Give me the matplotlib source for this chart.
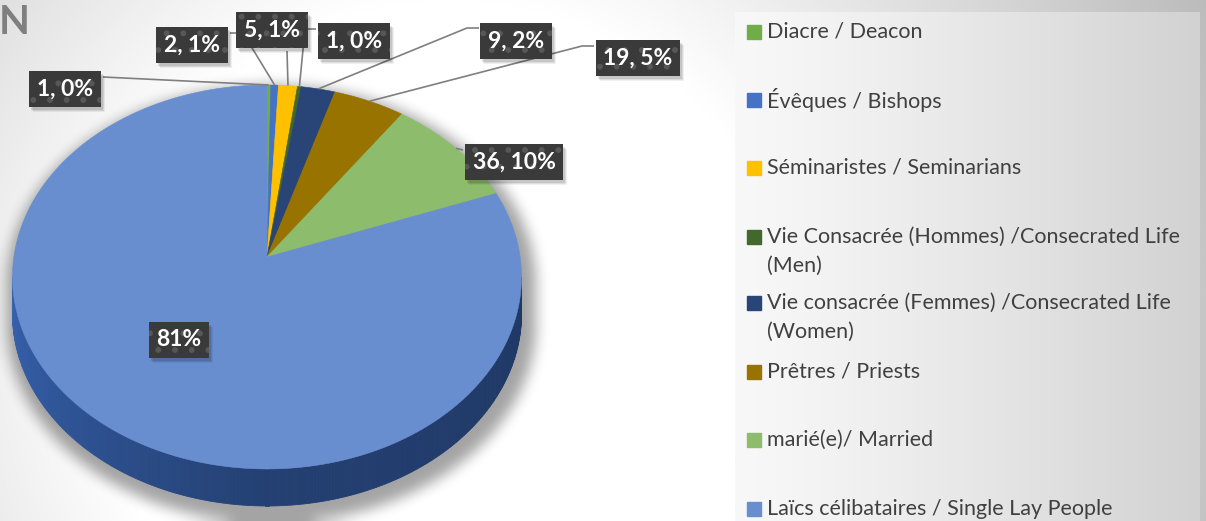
import colorsys
import numpy as np
import matplotlib
matplotlib.use("Agg")
import matplotlib.pyplot as plt
from matplotlib.collections import PolyCollection
from matplotlib.path import Path
from matplotlib.colors import to_rgb

# data
categories = [
    "Diacre / Deacon",
    "Évêques / Bishops",
    "Séminaristes / Seminarians",
    "Vie Consacrée (Hommes) /Consecrated Life\n(Men)",
    "Vie consacrée (Femmes) /Consecrated Life\n(Women)",
    "Prêtres / Priests",
    "marié(e)/ Married",
    "Laïcs célibataires / Single Lay People",
]
counts = [1, 2, 5, 1, 9, 19, 36, 304]
colors = ["#70AD47", "#4472C4", "#FFC000", "#43682B",
          "#294476", "#997300", "#8DBD6C", "#698ED0"]
show_count = [True, True, True, True, True, True, True, False]

# label boxes (text centre) and leader line routes, pixel coords
label_pos = [(65, 89), (192, 45), (272, 30), (354, 41),
             (516, 41), (638, 58), (514, 162), (179, 340)]
leader_route = [
    [(103, 77)],
    [(243, 33), (230, 33)],
    [(287, 51)],
    [(305, 29), (316, 29)],
    [(467, 28), (479, 28)],
    [(582, 46), (594, 46)],
    [(463, 150)],
    None,
]
legend_y = [32, 100, 168, 237, 303, 372, 440, 509]

W, H = 1206, 521
CX, CY, A, B, K, DEPTH = 267, 257, 253.1, 189.9, 0.104, 37


def proj(phi, shift=0.0):
    u = np.sin(phi)
    v = np.cos(phi)
    w = 1 + K * v
    return CX + A * u / w, CY - B * v / w + shift


def darker(c, f):
    h, l, s = colorsys.rgb_to_hls(*to_rgb(c))
    return colorsys.hls_to_rgb(h, l * f, s)


fig = plt.figure(figsize=(W / 100, H / 100), dpi=100)
ax = fig.add_axes([0, 0, 1, 1])
ax.set_xlim(0, W)
ax.set_ylim(H, 0)
ax.axis("off")

# background
yy, xx = np.mgrid[0:H, 0:W]
r = np.hypot(xx - 450, yy - 350)
g = (255 - np.clip(r - 350, 0, None) * 0.14) / 255
ax.imshow(np.dstack([g, g, g]), extent=(0, W, H, 0), zorder=0)

# legend panel
lx0, lx1, ly0 = 735, 1200, 12
t = np.linspace(0, 1, 200)
lg = (248 - 38 * t ** 1.2) / 255
lg = np.tile(lg, (10, 1))
ax.imshow(np.dstack([lg, lg, lg]), extent=(lx0, lx1, H, ly0), zorder=1, aspect="auto")

# pie geometry
total = sum(counts)
edges = np.concatenate([[0], np.cumsum(counts)]) / total * 2 * np.pi
phi_a = np.arccos(-K)

# soft shadow
ph = np.linspace(0, 2 * np.pi, 400)
top_x, top_y = proj(ph)
upper = (ph >= 2 * np.pi - phi_a) | (ph <= phi_a)
sx, sy = proj(ph, DEPTH)
ox = np.where(upper, top_x, sx)
oy = np.where(upper, top_y, sy)
sc = 1.04
outline = np.column_stack([(ox - CX) * sc + CX + 4, (oy - 290) * sc + 290 + 8])
mask = Path(outline).contains_points(np.column_stack([xx.ravel(), yy.ravel()])).reshape(H, W).astype(float)


def box_blur(a, rad, axis):
    c = np.cumsum(np.pad(a, [(rad + 1, rad) if i == axis else (0, 0) for i in range(2)], mode="edge"), axis=axis)
    if axis == 0:
        return (c[2 * rad + 1:] - c[:-2 * rad - 1]) / (2 * rad + 1)
    return (c[:, 2 * rad + 1:] - c[:, :-2 * rad - 1]) / (2 * rad + 1)


for _ in range(3):
    mask = box_blur(box_blur(mask, 6, 0), 6, 1)
shadow = np.zeros((H, W, 4))
shadow[..., 3] = mask * 0.36
ax.imshow(shadow, extent=(0, W, H, 0), zorder=2)

# side of the pie
side_polys, side_cols = [], []
steps = np.linspace(phi_a, 2 * np.pi - phi_a, 260)
for p0, p1 in zip(steps[:-1], steps[1:]):
    pm = (p0 + p1) / 2
    idx = min(np.searchsorted(edges, pm) - 1, len(counts) - 1)
    x0, y0 = proj(p0)
    x1, y1 = proj(p1)
    side_polys.append([(x0, y0), (x1, y1), (x1, y1 + DEPTH), (x0, y0 + DEPTH)])
    f = np.interp(np.degrees(pm), [96, 180, 264], [0.42, 0.48, 0.74])
    side_cols.append(darker(colors[idx], f))
ax.add_collection(PolyCollection(side_polys, facecolors=side_cols, edgecolors=side_cols,
                                 linewidths=0.6, zorder=3))

# top faces
for i, c in enumerate(colors):
    arc = np.linspace(edges[i], edges[i + 1], max(3, int(counts[i] / total * 720)))
    px, py = proj(arc)
    verts = np.column_stack([np.r_[CX, px], np.r_[CY, py]])
    ax.fill(verts[:, 0], verts[:, 1], color=c, lw=0.4, ec=c, zorder=4)

# leader lines and labels
plt.rcParams["hatch.linewidth"] = 1.8
labels = []
for i, v in enumerate(counts):
    pct = int(v / total * 100 + 0.5)
    txt = f"{v}, {pct}%" if show_count[i] else f"{pct}%"
    mid = (edges[i] + edges[i + 1]) / 2
    if leader_route[i] is not None:
        ax0, ay0 = proj(mid)
        pts = [(ax0, ay0)] + leader_route[i]
        ax.plot([p[0] for p in pts], [p[1] for p in pts], color="#7f7f7f", lw=1.2, zorder=5,
                solid_capstyle="butt")
    x, y = label_pos[i]
    labels.append(ax.text(x, y, txt, ha="center", va="center", fontsize=16.5, fontweight="bold",
                          family="Lato", color="white", zorder=7,
                          bbox=dict(boxstyle="square,pad=0.34", fc="#3a3a3a", ec="#575757",
                                    lw=0, hatch=".")))

# drop shadows under the label boxes
fig.canvas.draw()
inv = ax.transData.inverted()
for lbl in labels:
    bb = lbl.get_bbox_patch().get_window_extent()
    (x0, y0), (x1, y1) = inv.transform([(bb.x0, bb.y0), (bb.x1, bb.y1)])
    x0, x1 = min(x0, x1), max(x0, x1)
    y0, y1 = min(y0, y1), max(y0, y1)
    for k, a in enumerate([0.10, 0.08, 0.06]):
        ax.add_patch(plt.Rectangle((x0 + 2 + k, y0 + 3 + k), x1 - x0, y1 - y0,
                                   fc="black", ec="none", alpha=a, zorder=6))

# legend
for i, lab in enumerate(categories):
    y = legend_y[i]
    ax.add_patch(plt.Rectangle((747, y - 7), 14, 14, color=colors[i], zorder=6))
    for j, line in enumerate(lab.split("\n")):
        ax.text(767, y + j * 29, line, ha="left", va="center", fontsize=15.5,
                family="Lato", color="#404040", zorder=6)

# title, cut at the left edge as in the source
ax.text(-1, 22, "N", ha="left", va="center", fontsize=29, fontweight="bold",
        family="Lato", color="#7f7f7f", zorder=6)

fig.savefig("out.png", dpi=100)
